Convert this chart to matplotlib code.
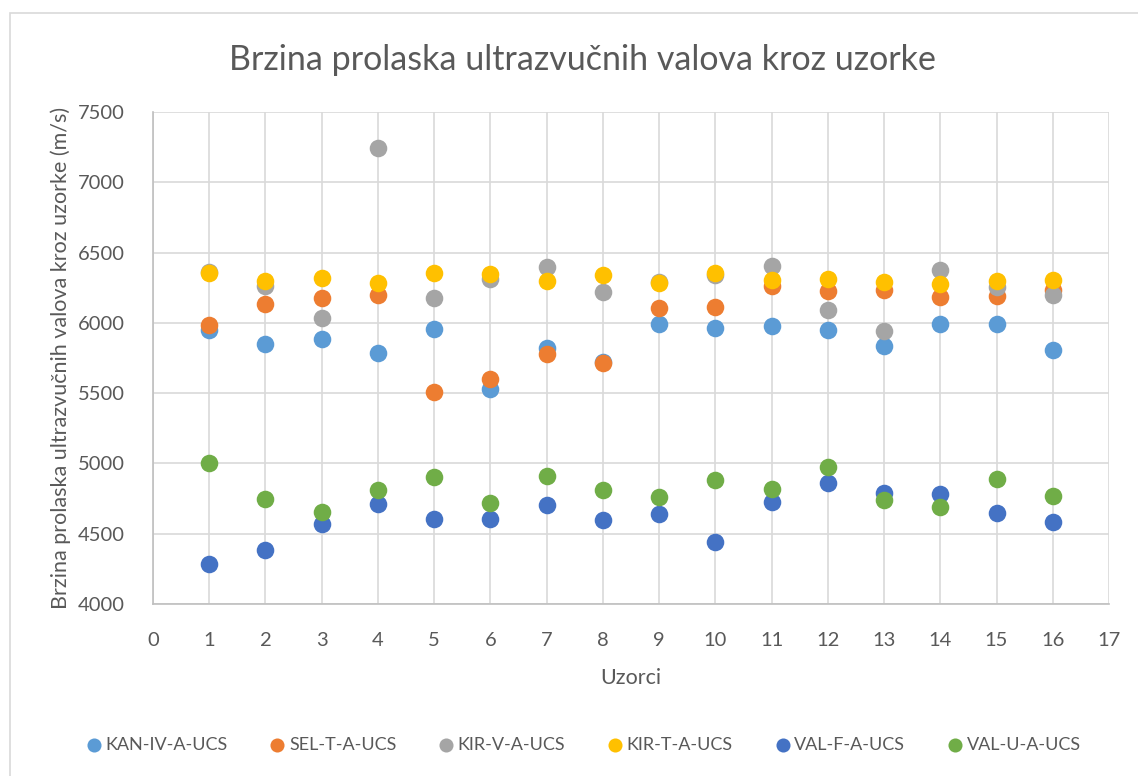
import matplotlib.pyplot as plt
from matplotlib.patches import Rectangle

plt.rcParams['font.family'] = ['Lato', 'DejaVu Sans']

uzorci = list(range(1, 17))

kan_iv = [5948, 5852, 5886, 5786, 5957, 5531, 5824, 5721,
          5990, 5964, 5976, 5948, 5838, 5990, 5990, 5810]
sel_t = [5983, 6133, 6174, 6198, 5505, 5602, 5776, 5714,
         6105, 6114, 6262, 6229, 6233, 6186, 6190, 6233]
kir_v = [6364, 6262, 6036, 7245, 6179, 6310, 6400, 6221,
         6293, 6340, 6407, 6095, 5943, 6376, 6252, 6198]
kir_t = [6352, 6300, 6321, 6281, 6357, 6348, 6300, 6340,
         6281, 6352, 6305, 6310, 6288, 6276, 6300, 6305]
val_f = [4286, 4386, 4567, 4714, 4605, 4607, 4705, 4600,
         4643, 4440, 4724, 4862, 4790, 4781, 4648, 4583]
val_u = [5005, 4750, 4652, 4810, 4905, 4719, 4912, 4812,
         4762, 4881, 4819, 4976, 4743, 4690, 4886, 4767]

series = [
    ('KAN-IV-A-UCS', kan_iv, '#5B9BD5'),
    ('SEL-T-A-UCS', sel_t, '#ED7D31'),
    ('KIR-V-A-UCS', kir_v, '#A5A5A5'),
    ('KIR-T-A-UCS', kir_t, '#FFC000'),
    ('VAL-F-A-UCS', val_f, '#4472C4'),
    ('VAL-U-A-UCS', val_u, '#70AD47'),
]

W, H = 1138, 776
fig = plt.figure(figsize=(W / 100, H / 100), dpi=100)
ax = fig.add_axes([153 / W, 1 - 604 / H, (1109 - 153) / W, (604 - 112) / H])

# chart border (runs off the right and bottom edges)
fig.patches.append(Rectangle((10 / W, -0.05), 1.0, 1.05 - 13 / H, transform=fig.transFigure,
                             fill=False, edgecolor='#D9D9D9', linewidth=1.2))

for name, vals, col in series:
    ax.scatter(uzorci, vals, s=160, color=col, label=name, zorder=3, linewidths=0)

ax.set_xlim(0, 17)
ax.set_ylim(4000, 7500)
ax.set_xticks(range(0, 18))
ax.set_yticks(range(4000, 7501, 500))
ax.grid(True, color='#D9D9D9', linewidth=1.2)
ax.set_axisbelow(True)
for side in ['top', 'right']:
    ax.spines[side].set_visible(False)
for side in ['left', 'bottom']:
    ax.spines[side].set_color('#BFBFBF')
    ax.spines[side].set_linewidth(1.2)
ax.tick_params(length=0, labelsize=14.5, colors='#595959')
ax.tick_params(axis='y', pad=20)
ax.tick_params(axis='x', pad=20)

ax.set_xlabel('Uzorci', fontsize=15.5, color='#595959', labelpad=14)
ax.set_ylabel('Brzina prolaska ultrazvučnih valova kroz uzorke (m/s)',
              fontsize=15.5, color='#595959', labelpad=5)
fig.text(582 / W, 1 - 60 / H, 'Brzina prolaska ultrazvučnih valova kroz uzorke',
         ha='center', va='center', fontsize=24.5, color='#595959')

fig.legend(loc='center', bbox_to_anchor=(584 / W, 1 - 745 / H), ncol=6, frameon=False,
           fontsize=13, labelcolor='#595959', handlelength=0.7, handletextpad=0.3,
           columnspacing=2.4, markerscale=0.8)

fig.savefig('out.png', dpi=100)
